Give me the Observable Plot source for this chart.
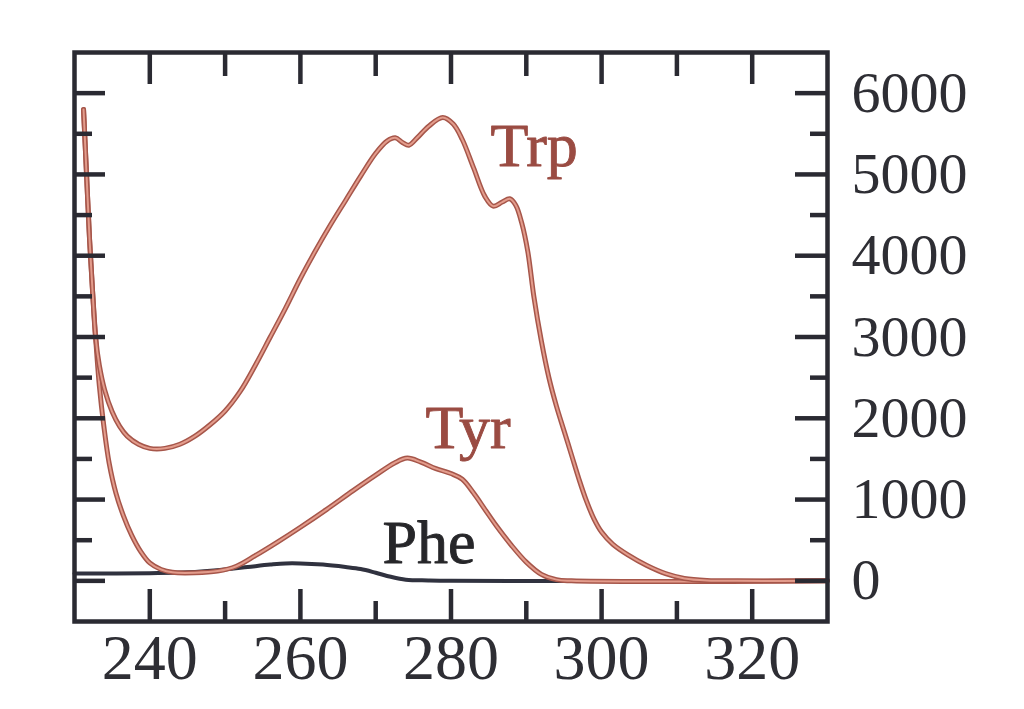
<!DOCTYPE html>
<html>
<head>
<meta charset="utf-8">
<script src="https://cdn.jsdelivr.net/npm/d3@7"></script>
<script src="https://cdn.jsdelivr.net/npm/@observablehq/plot@0.6"></script>
<style>
  html, body { margin: 0; padding: 0; background: #ffffff; }
  #chart { width: 1024px; height: 709px; overflow: hidden; }
</style>
</head>
<body>
<div id="chart"></div>
<script>
// Wavelength (nm) and molar absorptivity readings
const trpNm  = [231.2,231.6,232,232.4,232.8,233.3,234,235,236,237,238.5,240,242,244,246,248,250,252,254,256,258,260,262,264,266,268,270,271.5,272.6,273.6,274.4,275.5,277,278.9,280.3,281.5,283,284.5,285.6,286.8,287.8,288.6,289.4,290.2,291,292,293,294,295,296,297,298,299,300,301.5,303.5,306,308.5,311,314,318,330];
const trpVal = [5800,5000,4200,3560,3000,2650,2350,2080,1900,1780,1680,1630,1630,1680,1780,1920,2090,2330,2650,3000,3350,3720,4060,4380,4680,4980,5260,5410,5450,5390,5360,5450,5590,5700,5620,5430,5080,4730,4610,4660,4700,4620,4400,4050,3500,2950,2500,2150,1850,1550,1250,980,760,600,450,320,190,90,30,5,0,0];

const tyrNm  = [231.2,231.6,232,232.4,232.8,233.3,233.9,234.6,235.5,236.5,237.6,238.8,240,241.5,243,246,249,251.5,254,257,260,263.5,267,270,272.5,274.2,276,278,280,281.5,283,284.5,286,288,290,292,294,296,330];
const tyrVal = [5800,5000,4200,3560,3000,2400,1900,1450,1080,800,560,360,220,140,105,100,120,180,310,480,660,880,1110,1300,1450,1510,1460,1380,1320,1250,1080,880,680,440,230,80,15,0,0];

const pheNm  = [230,240,245,250,253,256,258,260,263,266,268,270,272,274,277,280,330];
const pheVal = [90,95,105,140,170,200,215,215,200,170,145,100,50,15,5,0,0];

const xLabels = [240, 260, 280, 300, 320];
const xMinor  = [250, 270, 290, 310];
const yLabels = [0, 1000, 2000, 3000, 4000, 5000, 6000];
const yMinor  = [500, 1500, 2500, 3500, 4500, 5500];

const seriesNames = ["Trp", "Tyr", "Phe"];
const labelNm  = [285.25, 276.6, 270.9];
const labelVal = [5100, 1635, 221];

const toRows = (nm, val) => nm.map((x, i) => ({nm: x, v: val[i]}));
const trp = toRows(trpNm, trpVal);
const tyr = toRows(tyrNm, tyrVal);
const phe = toRows(pheNm, pheVal);
const labels = seriesNames.map((s, i) => ({name: s, nm: labelNm[i], v: labelVal[i]}));

const W = 1024, H = 709;
const mT = 52, mR = 197, mB = 88, mL = 74;
const innerW = W - mL - mR, innerH = H - mT - mB;
const axisColor = "#2a2a32";
const textColor = "#2e2e34";
const serif = "'Liberation Serif', 'Times New Roman', serif";
const redEdge = "#a6564a", redCore = "#e39c8c";
const crv = "catmull-rom";

const chart = Plot.plot({
  width: W,
  height: H,
  marginTop: mT, marginRight: mR, marginBottom: mB, marginLeft: mL,
  style: {fontFamily: serif, background: "#ffffff", overflow: "visible"},
  x: {domain: [230, 330], axis: null},
  y: {domain: [-500, 6500], axis: null},
  marks: [
    // series
    Plot.line(phe, {x: "nm", y: "v", stroke: "#30323f", strokeWidth: 4, curve: crv}),
    Plot.line(tyr, {x: "nm", y: "v", stroke: redEdge, strokeWidth: 5, curve: crv}),
    Plot.line(tyr, {x: "nm", y: "v", stroke: redCore, strokeWidth: 2, curve: crv}),
    Plot.line(trp, {x: "nm", y: "v", stroke: redEdge, strokeWidth: 5, curve: crv}),
    Plot.line(trp, {x: "nm", y: "v", stroke: redCore, strokeWidth: 2, curve: crv}),
    // inward ticks
    Plot.tickX(xLabels, {x: d => d, insetTop: innerH - 32, stroke: axisColor, strokeWidth: 4.5}),
    Plot.tickX(xLabels, {x: d => d, insetBottom: innerH - 32, stroke: axisColor, strokeWidth: 4.5}),
    Plot.tickX(xMinor, {x: d => d, insetTop: innerH - 20, stroke: axisColor, strokeWidth: 4.5}),
    Plot.tickX(xMinor, {x: d => d, insetBottom: innerH - 24, stroke: axisColor, strokeWidth: 4.5}),
    Plot.tickY(yLabels, {y: d => d, insetRight: innerW - 31, stroke: axisColor, strokeWidth: 4.5}),
    Plot.tickY(yLabels, {y: d => d, insetLeft: innerW - 32, stroke: axisColor, strokeWidth: 4.5}),
    Plot.tickY(yMinor, {y: d => d, insetRight: innerW - 18, stroke: axisColor, strokeWidth: 4.5}),
    Plot.tickY(yMinor, {y: d => d, insetLeft: innerW - 17, stroke: axisColor, strokeWidth: 4.5}),
    Plot.frame({stroke: axisColor, strokeWidth: 4.5}),
    // axis labels
    Plot.axisX(xLabels, {anchor: "bottom", tickSize: 0, tickPadding: 12, fontSize: 64, fontFamily: serif, fill: textColor, stroke: textColor, strokeWidth: 0.9, label: null, tickFormat: d => String(d)}),
    Plot.axisY(yLabels, {anchor: "right", tickSize: 0, tickPadding: 24, fontSize: 58, fontFamily: serif, fill: textColor, stroke: textColor, strokeWidth: 0.9, label: null, tickFormat: d => String(d), textAnchor: "start"}),
    // series labels
    Plot.text(labels, {x: "nm", y: "v", text: "name", textAnchor: "start", lineAnchor: "bottom", fontSize: 62, fontFamily: serif,
      fill: d => d.name === "Phe" ? "#262629" : "#9a4b42",
      stroke: d => d.name === "Phe" ? "#262629" : "#9a4b42", strokeWidth: 0.9})
  ]
});
document.getElementById("chart").appendChild(chart);
</script>
</body>
</html>
